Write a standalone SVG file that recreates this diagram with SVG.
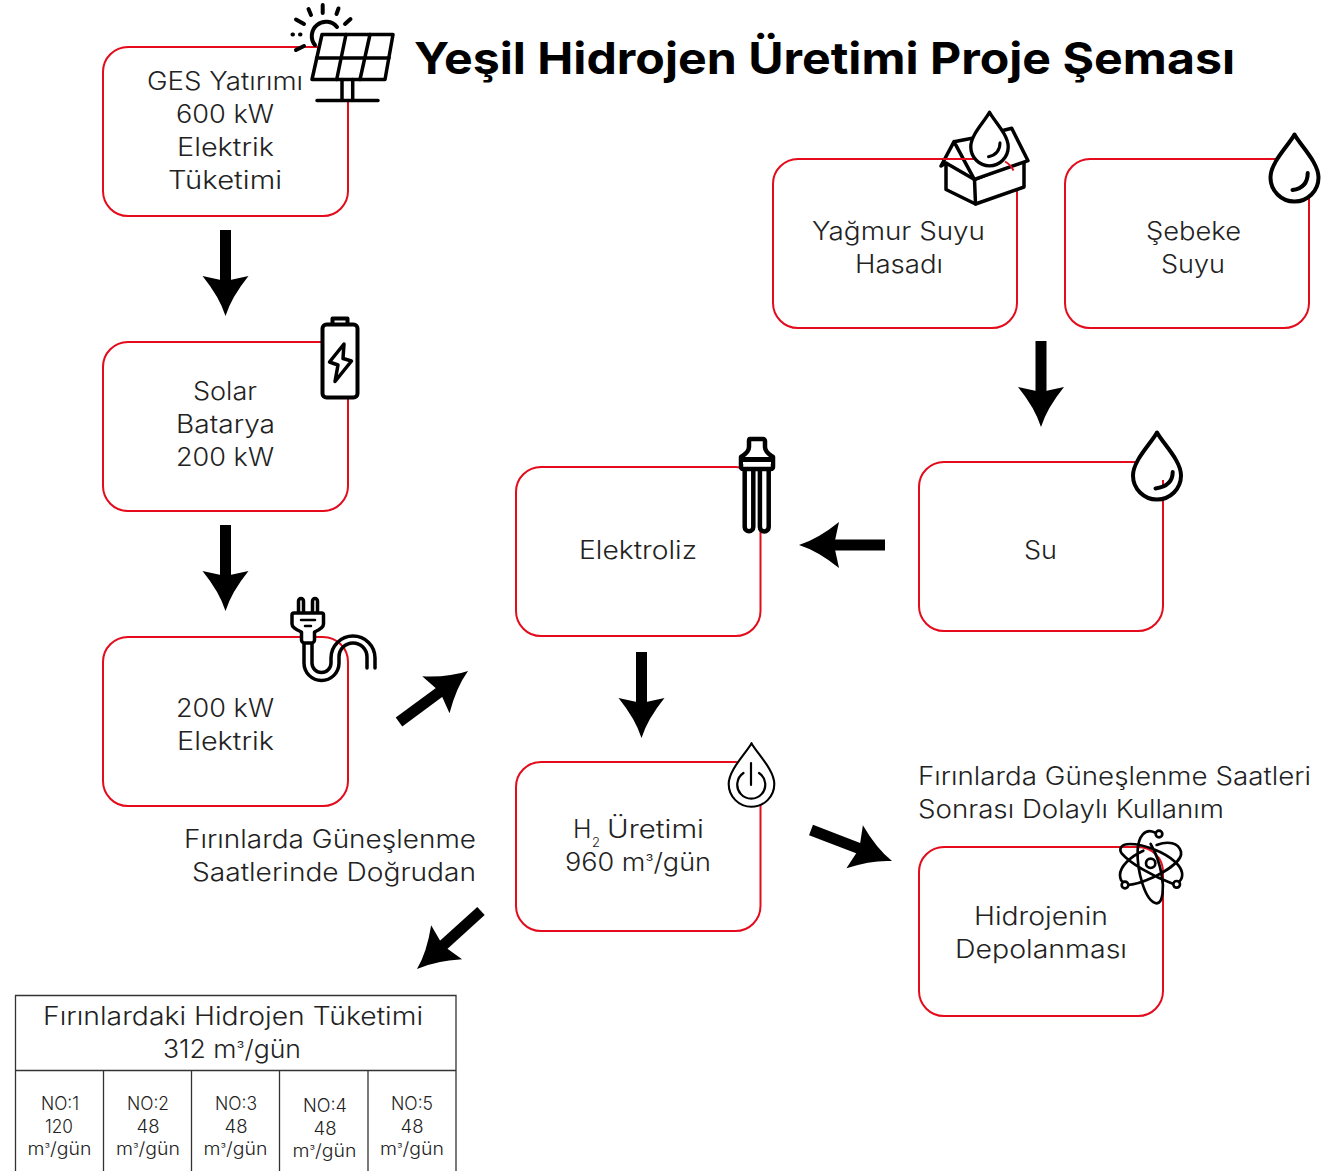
<svg xmlns="http://www.w3.org/2000/svg" width="1335" height="1171" viewBox="0 0 1335 1171">
<style>
text{font-family:"Inter","Noto Sans","Liberation Sans",sans-serif;fill:#222;font-size:25px;text-anchor:middle;font-weight:300}
.start{text-anchor:start}
.end{text-anchor:end}
.title{font-size:44px;font-weight:700;fill:#000;text-anchor:start}
.cell{font-size:18px}
.box{fill:none;stroke:#e30b1c;stroke-width:2}
.red{fill:none;stroke:#e30b1c;stroke-width:2}
.ic{fill:none;stroke:#000;stroke-width:4;stroke-linecap:round;stroke-linejoin:round}
.icw{fill:#fff;stroke:#000;stroke-width:4;stroke-linecap:round;stroke-linejoin:round}
.thin{stroke-width:2.2}
.arr{stroke:#000;stroke-width:11;fill:none;marker-end:url(#head)}
.tb{fill:none;stroke:#333;stroke-width:1.3}
</style>
<defs>
<marker id="head" markerUnits="userSpaceOnUse" markerWidth="70" markerHeight="60" refX="20" refY="30" orient="auto" viewBox="0 0 70 60" overflow="visible">
<path d="M50 30Q31 24 10 7L15 30L10 53Q31 36 50 30Z" fill="#000"/>
</marker>
<path id="drop" d="M0-43C-6-32-24-15-24 0A24 24 0 0 0 24 0C24-15 6-32 0-43Z"/>
</defs>
<rect width="1335" height="1171" fill="#fff"/>
<text id="title" class="title" x="414" y="74" textLength="821" lengthAdjust="spacingAndGlyphs">Yeşil Hidrojen Üretimi Proje Şeması</text>

<g id="connectors">
<line class="arr" x1="225.5" y1="230" x2="225.5" y2="286"/>
<line class="arr" x1="225.5" y1="525" x2="225.5" y2="581"/>
<line class="arr" x1="1041" y1="341" x2="1041" y2="397"/>
<line class="arr" x1="885" y1="545" x2="829" y2="545"/>
<line class="arr" x1="641.5" y1="652" x2="641.5" y2="708"/>
<line class="arr" x1="399" y1="722" x2="443.9" y2="688.8"/>
<line class="arr" x1="811" y1="830" x2="864" y2="850.3"/>
<line class="arr" x1="481" y1="911" x2="439.2" y2="948.9"/>
</g>

<g id="node-ges">
<rect class="box" x="103" y="47" width="245" height="169" rx="25"/>
<text x="225" y="90" textLength="156" lengthAdjust="spacingAndGlyphs">GES Yatırımı</text>
<text x="225" y="123" textLength="98" lengthAdjust="spacingAndGlyphs">600 kW</text>
<text x="225.5" y="156" textLength="97" lengthAdjust="spacingAndGlyphs">Elektrik</text>
<text x="225" y="189" textLength="114" lengthAdjust="spacingAndGlyphs">Tüketimi</text>
<g id="icon-solar">
<path class="ic" d="M315 45A13 13 0 1 1 337 27M322.7 5V13M308.5 9L311 15M338.5 8.500L336.500 14M296 19.500L304 24M350.500 19L345 24M292.500 34.500H293M300 34.500H300.500M296 50L304 46"/>
<rect x="342" y="79" width="11" height="21" fill="#fff"/>
<path class="icw" style="stroke-width:3.500" d="M322 34.500H393L385 79.500H312Z"/>
<path class="ic" style="stroke-width:3.500" d="M316.500 58H389M346 34.500L336.700 79.500M370 34.500L360 79.500M342 79.500V100M352.700 79.500V100M317 100.500H378"/>
</g>
</g>

<g id="node-batarya">
<rect class="box" x="103" y="342" width="245" height="169" rx="25"/>
<text x="225" y="400" textLength="64" lengthAdjust="spacingAndGlyphs">Solar</text>
<text x="225.500" y="433" textLength="99" lengthAdjust="spacingAndGlyphs">Batarya</text>
<text x="225" y="466" textLength="98" lengthAdjust="spacingAndGlyphs">200 kW</text>
<g id="icon-battery">
<rect class="icw" x="322.500" y="324.500" width="35" height="73" rx="4"/>
<path class="ic" d="M332.500 323.500V318.500H347.500V323.500"/>
<path class="ic" style="stroke-width:3.500" d="M344 344L329.500 362L338 365L335 381.500L351.500 361L343 358.500Z"/>
</g>
</g>

<g id="node-elektrik">
<rect class="box" x="103" y="637" width="245" height="169" rx="25"/>
<text x="225" y="717" textLength="98" lengthAdjust="spacingAndGlyphs">200 kW</text>
<text x="225.500" y="750" textLength="97" lengthAdjust="spacingAndGlyphs">Elektrik</text>
<g id="icon-plug">
<path class="ic" style="stroke-width:3.500" d="M304 644V663A17.500 17.500 0 0 0 339 663V657A14 14 0 0 1 367 657V668M312 644V663A9.500 9.500 0 0 0 331 663V658A22 22 0 0 1 375 658V668"/>
<path class="icw" style="stroke-width:3.500" d="M298.500 612V601A2.500 2.500 0 0 1 303.500 601V612M312.500 612V601A2.500 2.500 0 0 1 317.500 601V612"/>
<path class="icw" style="stroke-width:3.500" d="M294 613H321.500A2 2 0 0 1 323.500 615V624Q323.500 628 314.500 632V640A3 3 0 0 1 311.500 643H304.500A3 3 0 0 1 301.500 640V632Q292 628 292 624V615A2 2 0 0 1 294 613Z"/>
<path class="ic" style="stroke-width:2.500" d="M301 620H315M305 626H311"/>
</g>
</g>

<g id="node-yagmur">
<rect class="box" x="773" y="159" width="244" height="169" rx="25"/>
<text x="898.500" y="240" textLength="173" lengthAdjust="spacingAndGlyphs">Yağmur Suyu</text>
<text x="899" y="273" textLength="88" lengthAdjust="spacingAndGlyphs">Hasadı</text>
<g id="icon-house">
<path class="icw" style="stroke-width:3.500" d="M946 163V189.500L975.500 204L1024 187V160L974.500 179.500Z"/>
<path class="icw" style="stroke-width:3.500" d="M954 141.700L941 166L946 163M954 141.700L972 138.300L1011.700 128.300L1028 160.700L974.300 179.300Z"/>
<path class="ic" style="stroke-width:3.500" d="M974.500 179.500L975.500 204"/>
<path class="red" d="M943 159H975M1005 161.500Q1011 165 1013.500 170.500"/>
<use href="#drop" class="icw" style="stroke-width:4.300" transform="translate(989.500 146.700) scale(.78 .8)"/>
<path class="ic" style="stroke-width:3" d="M1000 142.700Q1000 154 988.500 156.700"/>
</g>
</g>

<g id="node-sebeke">
<rect class="box" x="1065" y="159" width="244" height="169" rx="25"/>
<text x="1193.500" y="240" textLength="95" lengthAdjust="spacingAndGlyphs">Şebeke</text>
<text x="1193" y="273" textLength="64" lengthAdjust="spacingAndGlyphs">Suyu</text>
<g id="icon-drop1">
<use href="#drop" class="icw" transform="translate(1294.500 177.500)"/>
<path class="ic" d="M1307.700 173Q1307.700 188 1292.500 190"/>
</g>
</g>

<g id="node-su">
<rect class="box" x="919" y="462" width="244" height="169" rx="25"/>
<text x="1040.500" y="559" textLength="33" lengthAdjust="spacingAndGlyphs">Su</text>
<g id="icon-drop2">
<use href="#drop" class="icw" transform="translate(1157 475.500)"/>
<path class="red" d="M1163 480V488"/>
<path class="ic" d="M1172.700 472Q1172.700 486 1155.500 488.500"/>
</g>
</g>

<g id="node-elektroliz">
<rect class="box" x="516" y="467" width="244.500" height="169" rx="25"/>
<text x="638" y="559" textLength="118" lengthAdjust="spacingAndGlyphs">Elektroliz</text>
<g id="icon-electrolyzer">
<rect x="743" y="468" width="28" height="62" fill="#fff"/>
<path class="ic" style="stroke-width:4.500" d="M744.700 470V527A4.300 4.300 0 0 0 753.300 527V470M759.900 470V527A4.400 4.400 0 0 0 768.700 527V470"/>
<path class="icw" style="stroke-width:4.500" d="M750 439H763A2 2 0 0 1 765 441V447Q765 452 773 457V467A2 2 0 0 1 771 469H743A2 2 0 0 1 741 467V457Q749 452 749 447V441Q749 439 750 439Z"/>
<path d="M741 457H773V462H741Z" fill="#000"/>
<path d="M743 463H771" stroke="#fff" stroke-width="2" fill="none"/>
</g>
</g>

<g id="node-uretim">
<rect class="box" x="516" y="762" width="244.500" height="169" rx="25"/>
<text class="start" y="838"><tspan x="573">H</tspan><tspan x="592" y="847" font-size="13">2</tspan><tspan x="607" y="838" textLength="97" lengthAdjust="spacingAndGlyphs">Üretimi</tspan></text>
<text x="638" y="871" textLength="146" lengthAdjust="spacingAndGlyphs">960 m<tspan font-size="17" dy="-3">³</tspan><tspan dy="3">/gün</tspan></text>
<g id="icon-power">
<use href="#drop" class="icw thin" transform="translate(751.500 784) scale(.95)"/>
<path class="ic thin" d="M743.500 773A14 14 0 1 0 759 773M751 763V785"/>
</g>
</g>

<g id="node-depolama">
<rect class="box" x="919" y="847" width="244" height="169" rx="25"/>
<text x="1041" y="925" textLength="134" lengthAdjust="spacingAndGlyphs">Hidrojenin</text>
<text x="1041" y="958" textLength="172" lengthAdjust="spacingAndGlyphs">Depolanması</text>
<g id="icon-atom" transform="translate(1110 820) scale(.3333)">
<circle class="ic" style="stroke-width:8" cx="122" cy="130" r="14"/>
<path class="ic" style="stroke-width:8" d="M135 38C105 22 85 50 83 90C80 150 105 245 140 250C160 250 162 200 155 165C150 135 138 100 122 72M190 192C130 170 60 130 35 100C25 85 35 72 60 72C100 72 160 95 195 125C220 148 222 170 208 185M140 75C175 62 205 68 213 95C218 120 175 150 130 172C95 188 70 195 52 195M100 92C60 110 30 140 30 165C30 180 35 185 42 188"/>
<circle class="icw" style="stroke-width:8" cx="147" cy="42" r="10"/>
<circle class="icw" style="stroke-width:8" cx="45" cy="195" r="10"/>
<circle class="icw" style="stroke-width:8" cx="200" cy="193" r="10"/>
</g>
</g>

<g id="label-dogrudan">
<text class="end" x="476" y="848" textLength="292" lengthAdjust="spacingAndGlyphs">Fırınlarda Güneşlenme</text>
<text class="end" x="476" y="881" textLength="284" lengthAdjust="spacingAndGlyphs">Saatlerinde Doğrudan</text>
</g>
<g id="label-dolayli">
<text class="start" x="918" y="785" textLength="393" lengthAdjust="spacingAndGlyphs">Fırınlarda Güneşlenme Saatleri</text>
<text class="start" x="918" y="818" textLength="306" lengthAdjust="spacingAndGlyphs">Sonrası Dolaylı Kullanım</text>
</g>

<g id="table">
<path class="tb" d="M15.500 1171V995.500H456V1171M15.500 1070.500H456M103.500 1070.500V1171M191.500 1070.500V1171M279.500 1070.500V1171M368 1070.500V1171"/>
<text x="233" y="1025" textLength="380" lengthAdjust="spacingAndGlyphs">Fırınlardaki Hidrojen Tüketimi</text>
<text x="232" y="1058" textLength="138" lengthAdjust="spacingAndGlyphs">312 m<tspan font-size="17" dy="-3">³</tspan><tspan dy="3">/gün</tspan></text>
<g class="cells">
<text class="cell" x="60" y="1109.500" textLength="38" lengthAdjust="spacingAndGlyphs">NO:1</text>
<text class="cell" x="59" y="1132.500" textLength="28" lengthAdjust="spacingAndGlyphs">120</text>
<text class="cell" x="59.500" y="1155" textLength="64" lengthAdjust="spacingAndGlyphs">m<tspan font-size="12" dy="-2.500">³</tspan><tspan dy="2.500">/gün</tspan></text>
<text class="cell" x="148" y="1109.500" textLength="42" lengthAdjust="spacingAndGlyphs">NO:2</text>
<text class="cell" x="148" y="1132.500" textLength="23" lengthAdjust="spacingAndGlyphs">48</text>
<text class="cell" x="148" y="1155" textLength="64" lengthAdjust="spacingAndGlyphs">m<tspan font-size="12" dy="-2.500">³</tspan><tspan dy="2.500">/gün</tspan></text>
<text class="cell" x="236" y="1109.500" textLength="42" lengthAdjust="spacingAndGlyphs">NO:3</text>
<text class="cell" x="236" y="1132.500" textLength="23" lengthAdjust="spacingAndGlyphs">48</text>
<text class="cell" x="235.500" y="1155" textLength="64" lengthAdjust="spacingAndGlyphs">m<tspan font-size="12" dy="-2.500">³</tspan><tspan dy="2.500">/gün</tspan></text>
<text class="cell" x="325" y="1111.500" textLength="44" lengthAdjust="spacingAndGlyphs">NO:4</text>
<text class="cell" x="325" y="1134.500" textLength="23" lengthAdjust="spacingAndGlyphs">48</text>
<text class="cell" x="324.500" y="1157" textLength="64" lengthAdjust="spacingAndGlyphs">m<tspan font-size="12" dy="-2.500">³</tspan><tspan dy="2.500">/gün</tspan></text>
<text class="cell" x="412" y="1109.500" textLength="42" lengthAdjust="spacingAndGlyphs">NO:5</text>
<text class="cell" x="412" y="1132.500" textLength="23" lengthAdjust="spacingAndGlyphs">48</text>
<text class="cell" x="412" y="1155" textLength="64" lengthAdjust="spacingAndGlyphs">m<tspan font-size="12" dy="-2.500">³</tspan><tspan dy="2.500">/gün</tspan></text>
</g>
</g>
</svg>
